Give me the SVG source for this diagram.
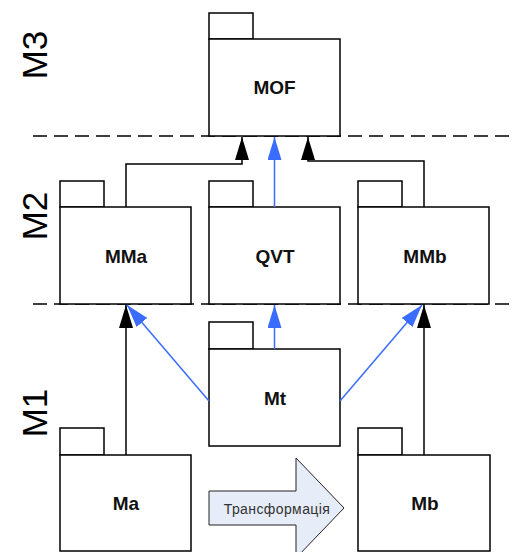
<svg xmlns="http://www.w3.org/2000/svg" width="517" height="552" viewBox="0 0 517 552">
<style>
.box{fill:#fff;stroke:#000;stroke-width:1.5}
.lbl{font-family:"Liberation Sans",Arial,sans-serif;font-weight:bold;font-size:19px;text-anchor:middle;fill:#111}
.lvl{font-family:"Liberation Sans",Arial,sans-serif;font-size:35px;text-anchor:middle;fill:#000}
.dash{stroke:#000;stroke-width:1.5;stroke-dasharray:14 7;fill:none}
.blk{stroke:#000;stroke-width:1.5;fill:none;marker-end:url(#ab)}
.blu{stroke:#3a6cff;stroke-width:1.5;fill:none;marker-end:url(#au)}
</style>
<defs>
<marker id="ab" markerWidth="23" markerHeight="14" refX="23" refY="7" orient="auto" markerUnits="userSpaceOnUse"><path d="M0,0 L23,7 L0,14 Z" fill="#000"/></marker>
<marker id="au" markerWidth="23" markerHeight="14" refX="23" refY="7" orient="auto" markerUnits="userSpaceOnUse"><path d="M0,0 L23,7 L0,14 Z" fill="#3a6cff"/></marker>
</defs>
<rect width="517" height="552" fill="#fff"/>
<g id="levels">
<text class="lvl" transform="translate(47,55) rotate(-90)">M3</text>
<text class="lvl" transform="translate(47,216) rotate(-90)">M2</text>
<text class="lvl" transform="translate(47,413) rotate(-90)">M1</text>
</g>
<g id="separators">
<line class="dash" x1="33" y1="136" x2="512" y2="136"/>
<line class="dash" x1="33" y1="304" x2="512" y2="304"/>
</g>
<g id="MOF"><rect class="box" x="209" y="13" width="44" height="26"/><rect class="box" x="209" y="39" width="131" height="97"/><text class="lbl" x="274.5" y="94">MOF</text></g>
<g id="MMa"><rect class="box" x="60" y="181" width="44" height="26"/><rect class="box" x="60" y="207" width="131" height="97"/><text class="lbl" x="126" y="263">MMa</text></g>
<g id="QVT"><rect class="box" x="209" y="181" width="44" height="26"/><rect class="box" x="209" y="207" width="131" height="97"/><text class="lbl" x="275" y="263">QVT</text></g>
<g id="MMb"><rect class="box" x="358" y="181" width="44" height="26"/><rect class="box" x="358" y="207" width="131" height="97"/><text class="lbl" x="425" y="263">MMb</text></g>
<g id="Mt"><rect class="box" x="209" y="322" width="44" height="27"/><rect class="box" x="209" y="349" width="131" height="97"/><text class="lbl" x="275" y="405">Mt</text></g>
<g id="Ma"><rect class="box" x="60" y="428" width="44" height="27"/><rect class="box" x="60" y="455" width="131" height="96"/><text class="lbl" x="126" y="510">Ma</text></g>
<g id="Mb"><rect class="box" x="358" y="428" width="44" height="27"/><rect class="box" x="358" y="455" width="132" height="96"/><text class="lbl" x="425" y="510">Mb</text></g>
<g id="transform">
<path d="M209,491 H296 V458 L344,508 L296,558 V525 H209 Z" fill="#e6ecf8" stroke="#222" stroke-width="1"/>
<text x="277" y="514" font-family="'Liberation Sans',Arial,sans-serif" font-size="14" letter-spacing="0.4" text-anchor="middle" fill="#333">Трансформація</text>
</g>
<g id="connectors">
<path class="blk" d="M126,207 V164 H242 V137"/>
<path class="blu" d="M274.5,207 V137"/>
<path class="blk" d="M424,207 V161 H308 V137"/>
<path class="blk" d="M126,455 V305"/>
<path class="blk" d="M424,455 V305"/>
<path class="blu" d="M274.5,349 V305"/>
<path class="blu" d="M209,401 L127,305"/>
<path class="blu" d="M340,401 L422,305"/>
</g>
</svg>
